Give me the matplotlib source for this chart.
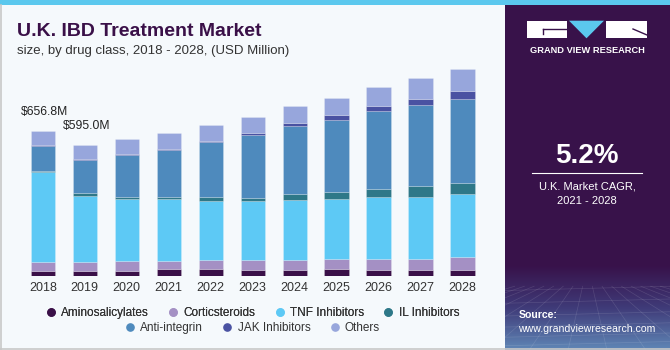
import matplotlib.pyplot as plt
import numpy as np
from matplotlib.lines import Line2D
from matplotlib.patches import Polygon, Rectangle

plt.rcParams["font.family"] = ["Liberation Sans", "DejaVu Sans"]

years = ["2018", "2019", "2020", "2021", "2022", "2023",
         "2024", "2025", "2026", "2027", "2028"]
series_names = ["Aminosalicylates", "Corticsteroids", "TNF Inhibitors",
                "IL Inhibitors", "Anti-integrin", "JAK Inhibitors", "Others"]
aminosalicylates = [24, 24, 24, 33, 33, 29, 29, 33, 29, 29, 29]
corticosteroids = [39, 39, 44, 35, 38, 45, 45, 44, 48, 50, 59]
tnf_inhibitors = [406, 299, 279, 279, 270, 267, 270, 270, 281, 279, 285]
il_inhibitors = [6, 14, 11, 11, 17, 14, 27, 32, 38, 51, 47]
anti_integrin = [116, 150, 189, 213, 248, 283, 308, 328, 353, 365, 382]
jak_inhibitors = [3, 4, 4, 6, 6, 10, 12, 21, 21, 27, 36]
others = [62, 65, 70, 71, 74, 74, 78, 80, 88, 94, 98]
value_labels = ["$656.8M", "$595.0M"]

colors = ["#3a1048", "#a490c4", "#5dc9f5", "#2e7888",
          "#4e8abd", "#4a52a2", "#97a6dc"]

BG = "#f5f9fc"
PANEL = "#38124a"
W, H = 670, 350


def fx(x):
    return x / W


def fy(y):
    # y measured from the top in pixels
    return 1 - y / H


fig = plt.figure(figsize=(6.7, 3.5), dpi=100, facecolor=BG)

# main chart
ax = fig.add_axes([fx(19.7), 74 / H, 466 / W, 220.8 / H])
ax.set_facecolor("none")
x = np.arange(len(years))
stack = [aminosalicylates, corticosteroids, tnf_inhibitors, il_inhibitors,
         anti_integrin, jak_inhibitors, others]
bottom = np.zeros(len(years))
for name, vals, c in zip(series_names, stack, colors):
    ax.bar(x, vals, width=0.58, bottom=bottom, color=c, label=name,
           edgecolor=(1, 1, 1, 0.35), linewidth=0.4)
    bottom += np.array(vals)

for i, txt in enumerate(value_labels):
    ax.annotate(txt, (x[i], bottom[i]), xytext=(1, 13.5), textcoords="offset points",
                ha="center", va="center", fontsize=8.7, color="#222222")

ax.set_xlim(-0.55, len(years) - 0.45)
ax.set_ylim(0, 1000)
ax.set_xticks(x)
ax.set_xticklabels(years, fontsize=9, color="#333333")
ax.tick_params(axis="x", length=0, pad=4)
ax.set_yticks([])
for s in ax.spines.values():
    s.set_visible(False)

# titles
fig.text(fx(17.3), fy(35.7), "U.K. IBD Treatment Market", fontsize=14,
         fontweight="bold", color="#3a1048", va="baseline")
fig.text(fx(17.3), fy(54.3), "size, by drug class, 2018 - 2028, (USD Million)",
         fontsize=9.5, color="#333333", va="baseline")

# legend in two centred rows
handles = [Line2D([], [], marker="o", linestyle="none", markersize=5.2,
                  color=c) for c in colors]
leg_kw = dict(frameon=False, fontsize=8.5, handlelength=0.7, handletextpad=0.52,
              columnspacing=1.7, borderpad=0, labelcolor="#333333", loc="center")
leg1 = fig.legend(handles[:4], series_names[:4], ncol=4,
                  bbox_to_anchor=(fx(253), fy(312.7)), **leg_kw)
fig.add_artist(leg1)
fig.legend(handles[4:], series_names[4:], ncol=3,
           bbox_to_anchor=(fx(253), fy(327.7)), **leg_kw)

# right panel
fig.add_artist(Rectangle((fx(505), 0), 1 - fx(505), 1, transform=fig.transFigure,
                         facecolor=PANEL, edgecolor="none", zorder=0))
grad_ax = fig.add_axes([fx(505), 0, 1 - fx(505), 85 / H], zorder=0.5)
grad = np.linspace(0, 1, 100)[:, None]
grad_ax.imshow(grad, aspect="auto", cmap=plt.matplotlib.colors.LinearSegmentedColormap.from_list(
    "g", [PANEL, "#3f3a78", "#5f86b6"]), extent=(0, 1, 0, 1), origin="upper")
for k in np.linspace(-1.5, 2.5, 18):
    grad_ax.plot([0.5 + (k - 0.5) * 0.25, k], [0.75, 0], color="white", alpha=0.12, lw=0.5)
for yy in [0.05, 0.15, 0.27, 0.4, 0.55, 0.7]:
    grad_ax.plot([0, 1], [yy, yy + 0.05], color="white", alpha=0.12, lw=0.5)
grad_ax.set_xlim(0, 1)
grad_ax.set_ylim(0, 1)
grad_ax.axis("off")

# logo
fig.add_artist(Rectangle((fx(527), fy(38.3)), (567 - 527) / W, 17.6 / H,
                         transform=fig.transFigure, facecolor="white", zorder=2))
fig.add_artist(Rectangle((fx(606), fy(38.3)), (647 - 606) / W, 17.6 / H,
                         transform=fig.transFigure, facecolor="white", zorder=2))
fig.add_artist(Polygon([(fx(569), fy(20.7)), (fx(604), fy(20.7)), (fx(586.5), fy(38.3))],
                       transform=fig.transFigure, facecolor="#5bc8ee", zorder=2))
fig.add_artist(Line2D([fx(543), fx(567)], [fy(29), fy(29)], transform=fig.transFigure,
                      color=PANEL, lw=1.0, zorder=3))
fig.add_artist(Line2D([fx(543), fx(543)], [fy(29), fy(34)], transform=fig.transFigure,
                      color=PANEL, lw=1.0, zorder=3))
fig.add_artist(Line2D([fx(633), fx(647)], [fy(29), fy(35)], transform=fig.transFigure,
                      color=PANEL, lw=1.0, zorder=3))
fig.text(fx(587), fy(50.7), "GRAND VIEW RESEARCH", fontsize=6.7, fontweight="bold",
         color="white", ha="center", va="center", zorder=3)

fig.text(fx(587), fy(156), "5.2%", fontsize=20, fontweight="bold", color="white",
         ha="center", va="center", zorder=3)
fig.add_artist(Line2D([fx(532.3), fx(642.3)], [fy(173.3), fy(173.3)],
                      transform=fig.transFigure, color="white", lw=0.8, zorder=3))
fig.text(fx(587), fy(186.7), "U.K. Market CAGR,", fontsize=8, color="white",
         ha="center", va="center", zorder=3)
fig.text(fx(587), fy(201), "2021 - 2028", fontsize=8, color="white",
         ha="center", va="center", zorder=3)
fig.text(fx(518.3), fy(315), "Source:", fontsize=7.6, fontweight="bold", color="white",
         ha="left", va="center", zorder=3)
fig.text(fx(518.3), fy(329.3), "www.grandviewresearch.com", fontsize=7.6, color="white",
         ha="left", va="center", zorder=3)

# top strip and frame
fig.add_artist(Rectangle((0, fy(5)), 1, 5 / H, transform=fig.transFigure,
                         facecolor="#5bc8ee", edgecolor="none", zorder=4))
fig.add_artist(Line2D([0.0008, 0.0008], [0, fy(5)], transform=fig.transFigure,
                      color="#c8c8c8", lw=1.2, zorder=4))
fig.add_artist(Line2D([0, 1], [fy(349), fy(349)], transform=fig.transFigure,
                      color="#c8c8c8", lw=1.2, zorder=4))

fig.savefig("out.png", dpi=100, facecolor=BG)
